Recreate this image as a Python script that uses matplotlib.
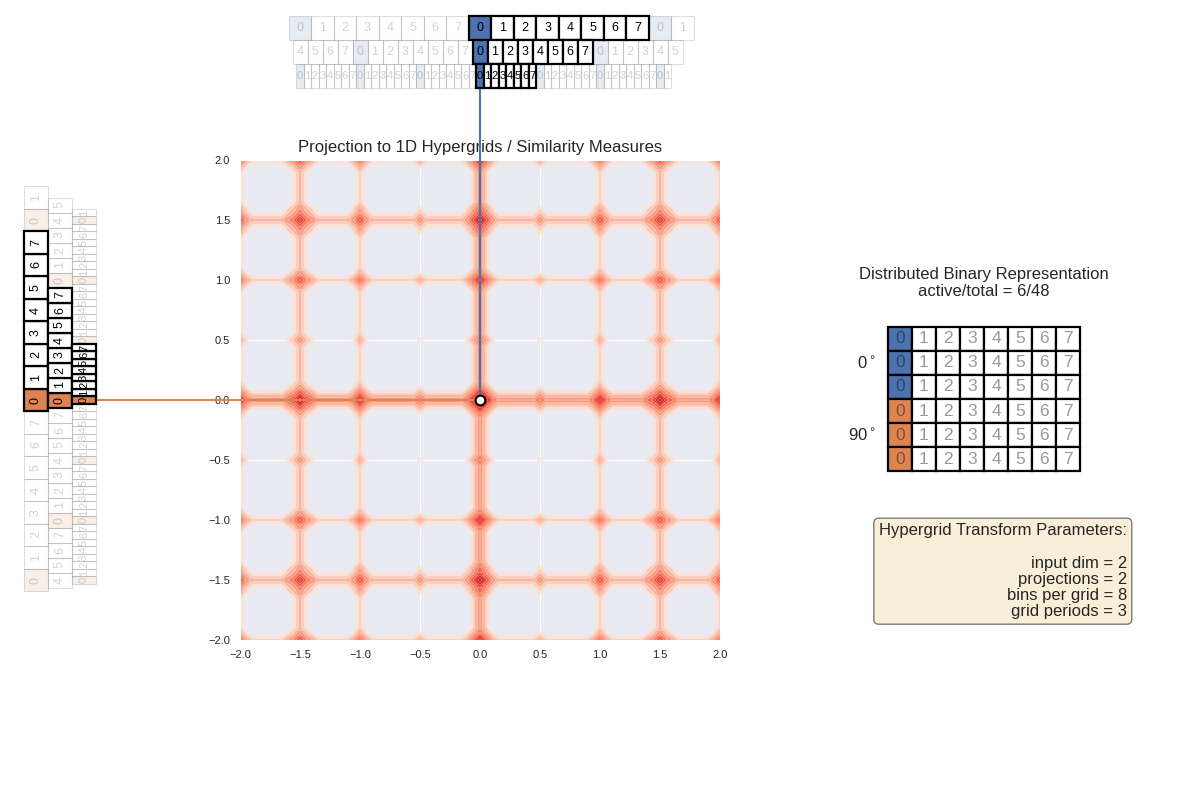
import numpy as np
import matplotlib
matplotlib.use("Agg")
import matplotlib.pyplot as plt
from matplotlib.colors import LogNorm
from matplotlib.patches import Rectangle
import seaborn as sns

sns.set_style("darkgrid")
plt.rcParams["font.family"] = ["Liberation Sans", "DejaVu Sans"]

# hypergrid transform parameters
input_dim = 2
angles = [0, 90]               # projection angles in degrees
periods = [1.5, 1.0, 0.5]      # one 1D grid per period
n_bins = 8
point = (0.0, 0.0)

# bin index range drawn for every 1D grid strip
strip_first = [-8, -12, -24]
strip_last = [9, 13, 25]
strip_fontsize = [9, 9, 8]

ticks = [-2.0, -1.5, -1.0, -0.5, 0.0, 0.5, 1.0, 1.5, 2.0]

blue, orange = sns.color_palette("deep")[:2]
proj_colors = [blue, orange]


def project(x, y, ang):
    t = np.deg2rad(ang)
    return x * np.round(np.cos(t), 12) + y * np.round(np.sin(t), 12)


# similarity of every location to the point, combined over projections / grids
xs = np.linspace(-2, 2, 81)
X, Y = np.meshgrid(xs, xs)
S = np.ones_like(X)
for ang in angles:
    d0 = project(X, Y, ang) - project(point[0], point[1], ang)
    A = np.zeros_like(X)
    for P in periods:
        d = (d0 + P / 2) % P - P / 2
        A += P / max(periods) * np.clip(1 - np.abs(d) / (P / 10), 0, 1)
    S *= 1 + A

fig = plt.figure(figsize=(12, 8), dpi=100)
ax = fig.add_axes([0.2, 0.2, 0.4, 0.6])
levels = [1.6, 1.9, 2.3, 2.8, 3.4, 4.1, 4.9, 5.8, 6.9, 7.9, S.max()]
ax.contourf(X, Y, S, levels=levels, cmap="Reds",
            norm=LogNorm(vmin=1.35, vmax=11), alpha=0.72)
ax.set_xlim(-2, 2)
ax.set_ylim(-2, 2)
ax.set_aspect("equal")
ax.set_xticks(ticks)
ax.set_yticks(ticks)
ax.tick_params(labelsize=8)
ax.set_title("Projection to 1D Hypergrids / Similarity Measures", fontsize=12)

# 1D grid strips: 0 deg above the plot, 90 deg left of it
strip_w = 0.2
top_base = 2.0 + 0.6
left_base = -2.0 - 1.2


def draw_strip(g, vertical, color):
    P = periods[g]
    w = P / n_bins
    p0 = project(point[0], point[1], angles[1 if vertical else 0])
    k0 = int(np.round(p0 / w))
    for k in range(strip_first[g], strip_last[g] + 1):
        lo = (k - 0.5) * w
        label = k % n_bins
        active = k0 <= k < k0 + n_bins
        fc = color if label == 0 else "white"
        if vertical:
            x0 = left_base - (len(periods) - g) * strip_w
            rect = Rectangle((x0, lo), strip_w, w)
            tx, ty, rot = x0 + strip_w / 2, k * w, 90
        else:
            y0 = top_base + (len(periods) - 1 - g) * strip_w
            rect = Rectangle((lo, y0), w, strip_w)
            tx, ty, rot = k * w, y0 + strip_w / 2, 0
        rect.set_facecolor(fc)
        rect.set_edgecolor("black")
        rect.set_clip_on(False)
        if active:
            rect.set_linewidth(1.6)
            rect.set_zorder(6)
        else:
            rect.set_linewidth(0.8)
            rect.set_alpha(0.13)
            rect.set_zorder(4)
        ax.add_patch(rect)
        ax.text(tx, ty, str(label), ha="center", va="center", rotation=rot,
                fontsize=strip_fontsize[g], color="black",
                alpha=1.0 if active else 0.18, clip_on=False, zorder=7)


for g in range(len(periods)):
    draw_strip(g, False, blue)
    draw_strip(g, True, orange)

top_end = top_base + len(periods) * strip_w
left_end = left_base - len(periods) * strip_w
ax.plot([point[0], point[0]], [point[1], top_end], color=blue, lw=1.5,
        clip_on=False, zorder=5)
ax.plot([left_end, point[0]], [point[1], point[1]], color=orange, lw=1.5,
        clip_on=False, zorder=5)
ax.plot(point[0], point[1], "o", mfc="white", mec="black", ms=7, mew=1.5,
        zorder=10, clip_on=False)

# distributed binary representation table
n_rows = len(angles) * len(periods)
tax = fig.add_axes([0.74, 0.41125, 0.16, 0.18])
tax.set_xlim(0, n_bins)
tax.set_ylim(n_rows, 0)
tax.axis("off")
n_active = 0
for i, ang in enumerate(angles):
    p0 = project(point[0], point[1], ang)
    for g, P in enumerate(periods):
        r = i * len(periods) + g
        act = int(np.round(p0 / (P / n_bins))) % n_bins
        for b in range(n_bins):
            fc = proj_colors[i] if b == act else "white"
            n_active += b == act
            tax.add_patch(Rectangle((b, r), 1, 1, facecolor=fc, edgecolor="black",
                                    lw=1.6, clip_on=False))
            tax.text(b + 0.5, r + 0.5, str(b), ha="center", va="center",
                     fontsize=12.5, color="black", alpha=0.4)
    tax.text(-0.5, i * len(periods) + 1.5, f"{ang}$^\\circ$", ha="right",
             va="center", fontsize=12)
tax.set_title(f"Distributed Binary Representation\nactive/total = {n_active}/{n_rows * n_bins}",
              fontsize=12, pad=22)

params = ("Hypergrid Transform Parameters:\n\n"
          f"input dim = {input_dim}\n"
          f"projections = {len(angles)}\n"
          f"bins per grid = {n_bins}\n"
          f"grid periods = {len(periods)}")
fig.text(0.939, 0.286, params, ha="right", va="center", multialignment="right",
         fontsize=12, linespacing=1.1,
         bbox=dict(boxstyle="round", facecolor="wheat", edgecolor="black", alpha=0.5))

fig.savefig("out.png", dpi=100)
